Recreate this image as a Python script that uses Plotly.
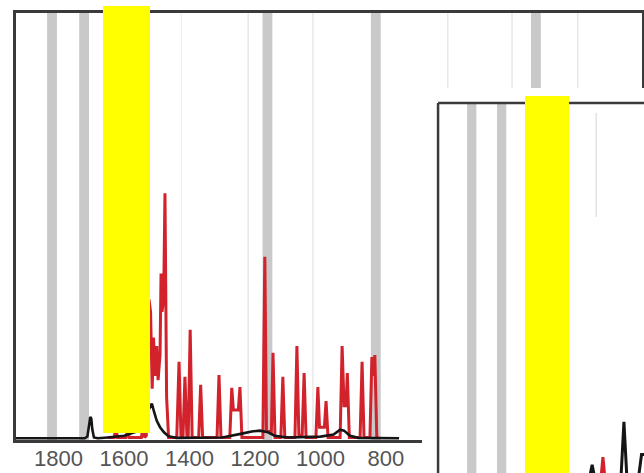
import plotly.graph_objects as go

# ---------------- data ----------------
tick_vals = [1800, 1600, 1400, 1200, 1000, 800]
tick_text = ["1800", "1600", "1400", "1200", "1000", "800"]

# grey reference bands (cm-1)
band_centers_main = [1820, 1722, 1162, 831, 342]
band_centers_inset = [1821, 1724]
# thin grid-like lines (cm-1)
grid_lines_main = [1425, 1221, 1023, 611, 415, 214]
grid_line_inset = [1418]

# red spectrum (main panel)
red_wn = [1650, 1630, 1625, 1620, 1594, 1589, 1584, 1547, 1542, 1537, 1532,
          1524, 1519, 1514, 1510, 1505, 1500, 1496, 1490, 1487, 1484, 1479,
          1475, 1470, 1464,
          1439, 1432, 1426, 1420, 1414, 1408, 1404, 1398, 1392,
          1372, 1366, 1360, 1316, 1310, 1304,
          1277, 1271, 1266, 1251, 1246, 1240,
          1176, 1170, 1165, 1150, 1145, 1139, 1121, 1115, 1109,
          1078, 1072, 1066, 1056, 1050, 1044,
          1014, 1008, 1003, 988, 983, 977,
          940, 934, 928, 922, 918, 912,
          879, 873, 867, 849, 843, 839, 834, 828, 822]
red_abs = [0.006, 0.006, 0.03, 0.006, 0.006, 0.025, 0.006, 0.006, 0.03, 0.006, 0.01,
           0.33, 0.30, 0.12, 0.24, 0.15, 0.22, 0.14, 0.20, 0.39, 0.30, 0.33,
           0.578, 0.10, 0.006,
           0.006, 0.183, 0.006, 0.006, 0.148, 0.01, 0.01, 0.258, 0.006,
           0.006, 0.129, 0.006, 0.006, 0.152, 0.006,
           0.006, 0.122, 0.07, 0.07, 0.124, 0.006,
           0.006, 0.429, 0.02, 0.02, 0.204, 0.006, 0.006, 0.148, 0.006,
           0.006, 0.220, 0.01, 0.01, 0.157, 0.006,
           0.006, 0.124, 0.03, 0.03, 0.091, 0.006,
           0.006, 0.220, 0.08, 0.08, 0.157, 0.006,
           0.006, 0.183, 0.006, 0.006, 0.194, 0.15, 0.199, 0.006, 0.006]

# black spectrum (main panel)
black_wn = [1930, 1720, 1712, 1707, 1703, 1700, 1697, 1692, 1680, 1650, 1600,
            1560, 1540, 1525, 1515, 1508, 1500, 1490, 1478, 1465, 1440, 1300,
            1270, 1240, 1210, 1185, 1160, 1140, 1100, 1000, 960, 940, 928,
            910, 885, 760]
black_abs = [0.004, 0.004, 0.008, 0.035, 0.054, 0.05, 0.025, 0.006, 0.004, 0.006, 0.01,
             0.02, 0.05, 0.07, 0.085, 0.065, 0.045, 0.03, 0.018, 0.009, 0.005, 0.006,
             0.01, 0.015, 0.02, 0.022, 0.018, 0.01, 0.006, 0.008, 0.013, 0.024, 0.022,
             0.01, 0.005, 0.004]

# inset spectra (only their tops are visible)
inset_red_wn = [1403, 1396, 1389]
inset_red_abs = [-0.02, 0.043, -0.02]
inset_black_wn = [1441, 1431, 1421, 1338, 1328, 1318, 1282, 1271, 1262]
inset_black_abs = [-0.02, 0.022, -0.02, -0.02, 0.138, -0.02, -0.02, 0.05, 0.05]

# ---------------- layout geometry ----------------
W, H = 644, 473
main_x_dom = [16 / W, 642 / W]
main_y_dom = [(H - 440) / H, (H - 13) / H]
main_x_range = [1930, 18]
inset_x_dom = [422 / W, 1.0]
inset_y_dom = [0.0, (H - 88) / H]
inset_x_range = [1982, 1263]
inset_y_range = [0.0, 1.0405]
inset_frame_x = 1930
inset_frame_y = 1.0

RED = "#d2222c"
BLACK = "#151515"
BAND = "#c9c9c9"
FRAME = "#3a3a3a"

fig = go.Figure()
fig.add_trace(go.Scatter(x=red_wn, y=red_abs, mode="lines",
                         line=dict(color=RED, width=3), xaxis="x", yaxis="y",
                         showlegend=False, hoverinfo="skip"))
fig.add_trace(go.Scatter(x=black_wn, y=black_abs, mode="lines",
                         line=dict(color=BLACK, width=2.6), xaxis="x", yaxis="y",
                         showlegend=False, hoverinfo="skip"))
fig.add_trace(go.Scatter(x=inset_red_wn, y=inset_red_abs, mode="lines",
                         line=dict(color=RED, width=3), xaxis="x2", yaxis="y2",
                         showlegend=False, hoverinfo="skip"))
fig.add_trace(go.Scatter(x=inset_black_wn, y=inset_black_abs, mode="lines",
                         line=dict(color=BLACK, width=3), xaxis="x2", yaxis="y2",
                         showlegend=False, hoverinfo="skip"))

shapes = []
half = 15
for c in band_centers_main:
    shapes.append(dict(type="rect", xref="x", yref="y", x0=c + half, x1=c - half,
                       y0=0, y1=1, fillcolor=BAND, line=dict(width=0), layer="below"))
for i, g in enumerate(grid_lines_main):
    shapes.append(dict(type="line", xref="x", yref="y", x0=g, x1=g, y0=0, y1=1,
                       line=dict(color="#ececec" if i == 0 else "#dcdcdc", width=1),
                       layer="below"))
# inset background
shapes.append(dict(type="rect", xref="x2", yref="y2", x0=inset_x_range[0], x1=inset_x_range[1],
                   y0=inset_y_range[0], y1=inset_y_range[1], fillcolor="white",
                   line=dict(width=0), layer="below"))
for c in band_centers_inset:
    shapes.append(dict(type="rect", xref="x2", yref="y2", x0=c + half, x1=c - half,
                       y0=inset_y_range[0], y1=inset_frame_y, fillcolor=BAND,
                       line=dict(width=0), layer="below"))
for g in grid_line_inset:
    shapes.append(dict(type="line", xref="x2", yref="y2", x0=g, x1=g, y0=0.692, y1=0.973,
                       line=dict(color="#d4d4d4", width=1), layer="below"))
# inset frame
shapes.append(dict(type="line", xref="x2", yref="y2", x0=inset_frame_x, x1=inset_frame_x,
                   y0=inset_y_range[0], y1=inset_frame_y, line=dict(color=FRAME, width=2.5),
                   layer="below"))
shapes.append(dict(type="line", xref="x2", yref="y2", x0=inset_frame_x, x1=inset_x_range[1],
                   y0=inset_frame_y, y1=inset_frame_y, line=dict(color=FRAME, width=2.5),
                   layer="below"))
# yellow boxes on top
shapes.append(dict(type="rect", xref="paper", yref="paper", x0=103 / W, x1=150 / W,
                   y0=(H - 433) / H, y1=(H - 6) / H, fillcolor="#ffff00",
                   line=dict(width=0), layer="above"))
shapes.append(dict(type="rect", xref="paper", yref="paper", x0=525 / W, x1=569 / W,
                   y0=0, y1=(H - 96) / H, fillcolor="#ffff00",
                   line=dict(width=0), layer="above"))

fig.update_layout(
    width=W, height=H,
    margin=dict(l=0, r=0, t=0, b=0),
    paper_bgcolor="white", plot_bgcolor="white",
    showlegend=False,
    shapes=shapes,
    xaxis=dict(domain=main_x_dom, range=main_x_range, showgrid=False, zeroline=False,
               showline=True, mirror=True, linecolor=FRAME, linewidth=2.5,
               ticks="", tickmode="array", tickvals=tick_vals, ticktext=tick_text,
               ticklabelstandoff=-3,
               tickfont=dict(family="Liberation Sans, Arial, sans-serif", size=22,
                             color="#555555")),
    yaxis=dict(domain=main_y_dom, range=[0, 1], showgrid=False, zeroline=False,
               showline=True, mirror=True, linecolor=FRAME, linewidth=2.5,
               ticks="", showticklabels=False),
    xaxis2=dict(domain=inset_x_dom, range=inset_x_range, visible=False, anchor="y2"),
    yaxis2=dict(domain=inset_y_dom, range=inset_y_range, visible=False, anchor="x2"),
)

fig.write_html("out.html",
               config={"displayModeBar": False},
               post_script="document.body.style.margin='0';"
                           "document.body.style.overflow='hidden';")
